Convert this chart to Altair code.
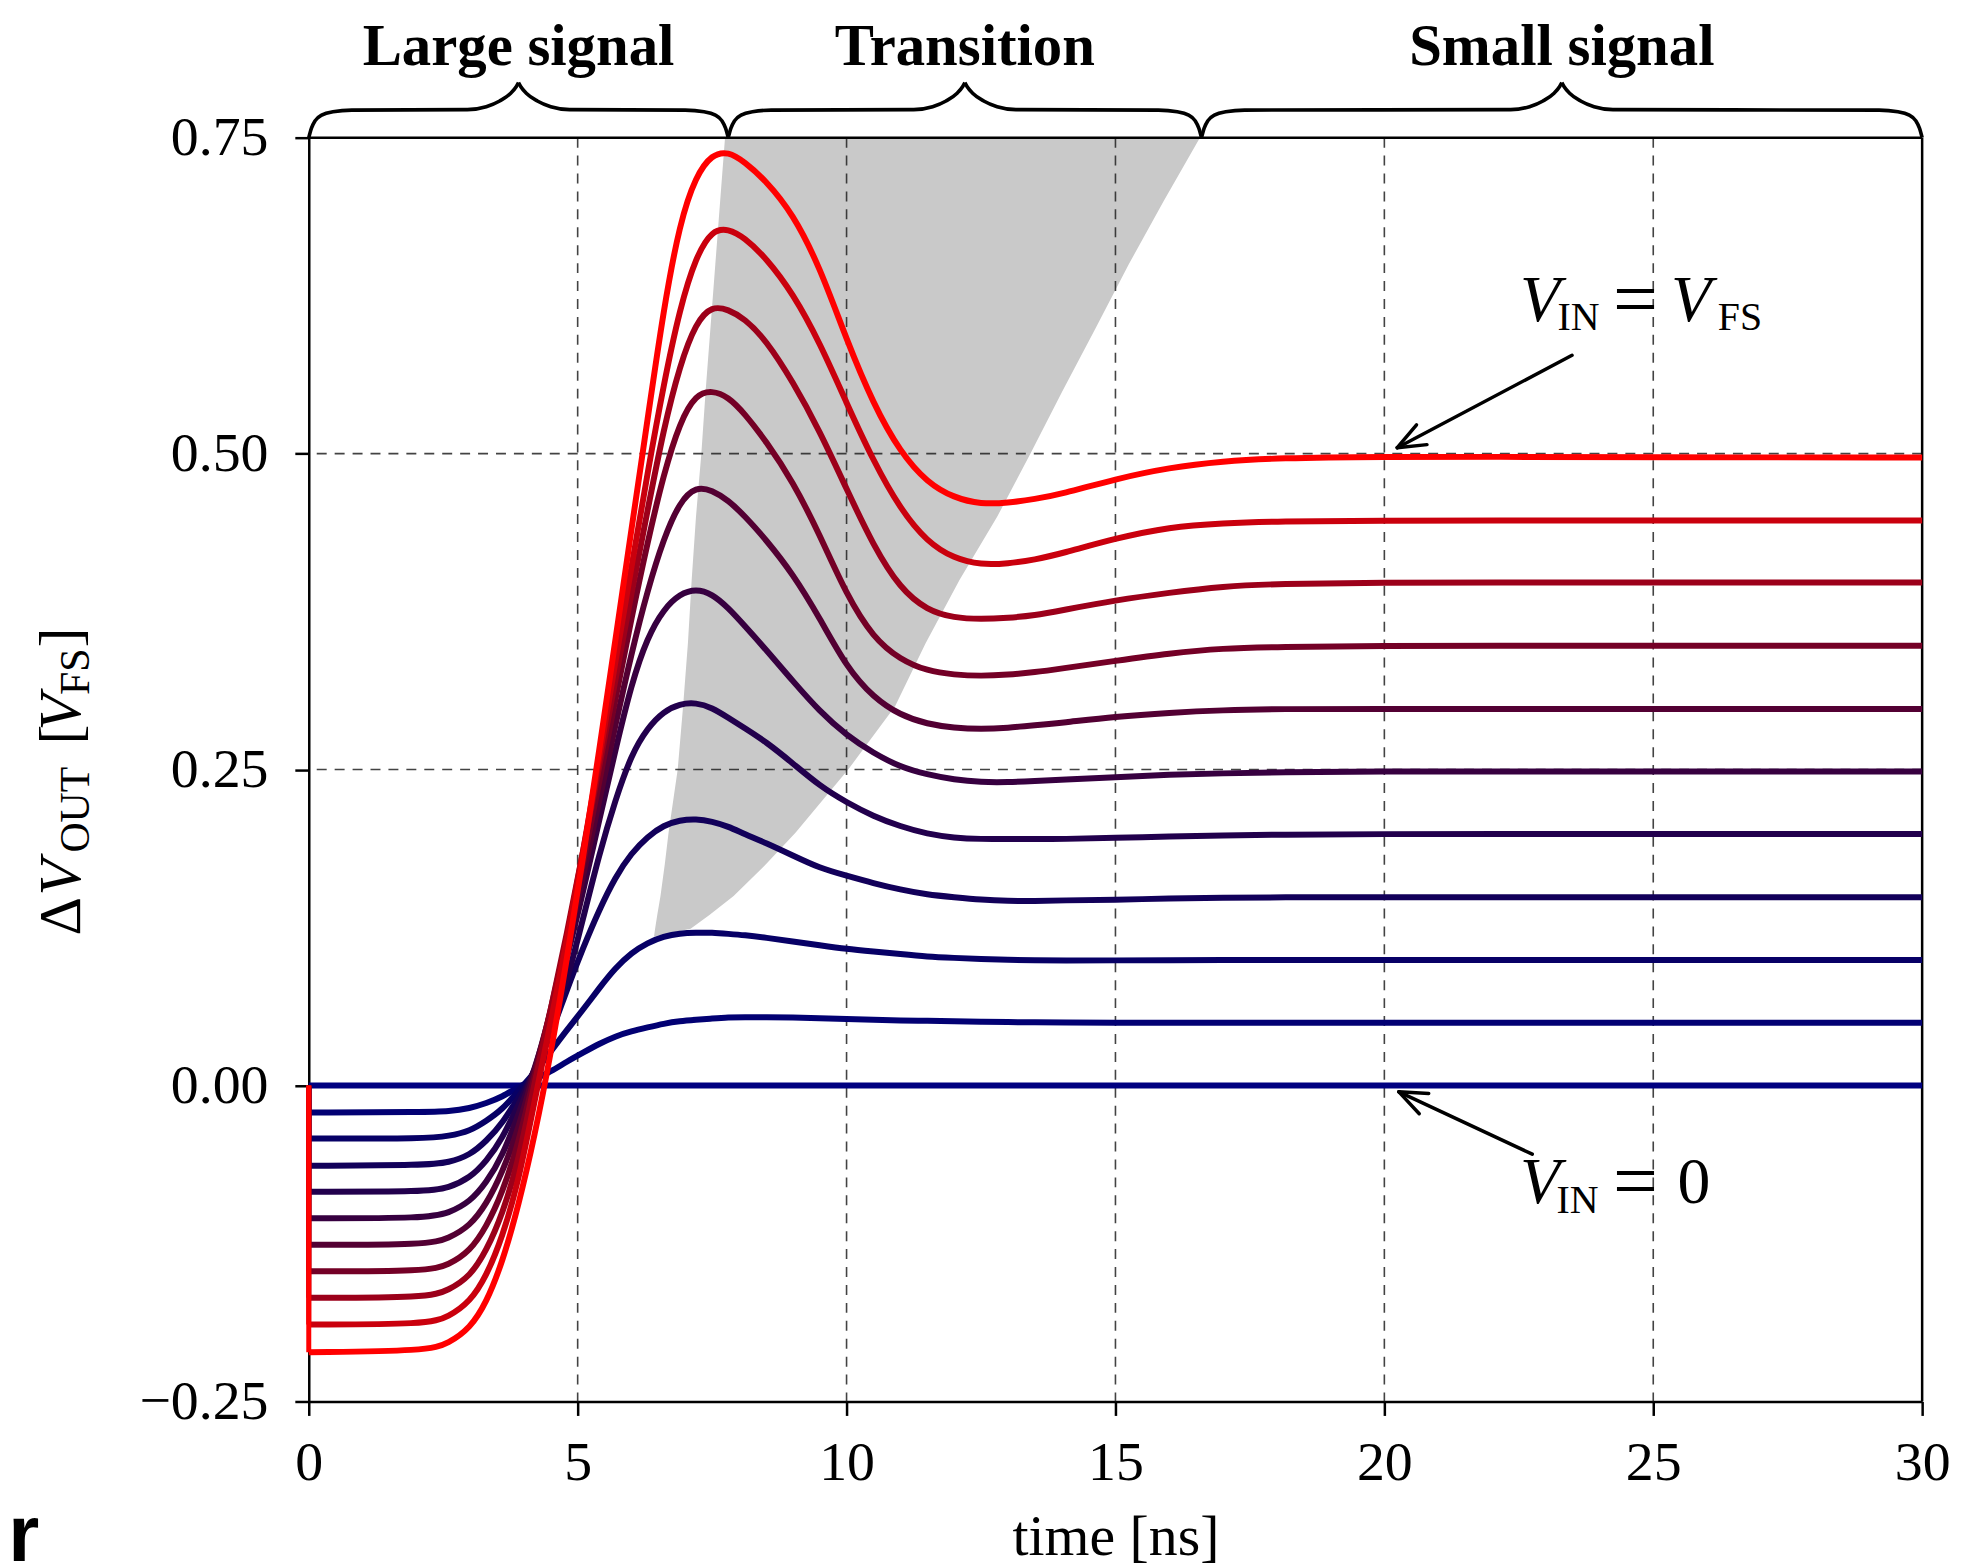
import math
import altair as alt
import pandas as pd

# ---------------- data ----------------
T = [0, 2.2, 2.6, 3.0, 3.3, 3.6, 3.9, 4.2, 4.5, 4.8, 5.1, 5.4, 5.7, 6.0, 6.3, 6.6, 6.9,
     7.2, 7.5, 7.8, 8.1, 8.5, 9.0, 9.5, 10.0, 10.5, 11.0, 11.5, 12.0, 12.5, 13.0, 13.5, 14.0,
     15.0, 16.0, 17.0, 18.0, 20.0, 22.0, 25.0, 30.0]

V0 = [0.0] * 41
V1 = [-0.0214, -0.021, -0.0205, -0.018, -0.014, -0.009, -0.001,
      0.005, 0.011, 0.019, 0.026, 0.033, 0.039, 0.043, 0.046, 0.049, 0.051,
      0.052, 0.053, 0.054, 0.054, 0.054, 0.0538, 0.0533, 0.0527,
      0.052, 0.0515, 0.0512, 0.0508, 0.0505, 0.0502, 0.050, 0.0498,
      0.0497, 0.0497, 0.0497, 0.0497, 0.0497, 0.0497, 0.0497, 0.0497]
V2 = [-0.042, -0.042, -0.040, -0.036, -0.028, -0.019, -0.004,
      0.010, 0.027, 0.044, 0.060, 0.077, 0.093, 0.105, 0.113, 0.118, 0.1205,
      0.121, 0.121, 0.120, 0.119, 0.117, 0.114, 0.111, 0.108,
      0.106, 0.104, 0.102, 0.101, 0.100, 0.0995, 0.099, 0.099,
      0.099, 0.0992, 0.0994, 0.0994, 0.0994, 0.0994, 0.0994, 0.0994]
V3 = [-0.0635, -0.063, -0.061, -0.055, -0.044, -0.030, -0.009,
      0.010, 0.040, 0.076, 0.109, 0.139, 0.165, 0.184, 0.197, 0.206, 0.210,
      0.211, 0.209, 0.205, 0.199, 0.192, 0.182, 0.172, 0.166,
      0.160, 0.155, 0.151, 0.149, 0.147, 0.146, 0.146, 0.1465,
      0.147, 0.148, 0.1485, 0.149, 0.149, 0.149, 0.149, 0.149]
V4 = [-0.084, -0.084, -0.081, -0.073, -0.060, -0.042, -0.015,
      0.012, 0.045, 0.082, 0.132, 0.183, 0.226, 0.262, 0.283, 0.296, 0.302,
      0.303, 0.299, 0.291, 0.283, 0.272, 0.255, 0.237, 0.224,
      0.213, 0.205, 0.199, 0.196, 0.195, 0.195, 0.195, 0.195,
      0.196, 0.197, 0.198, 0.1985, 0.199, 0.199, 0.199, 0.199]
V5 = [-0.105, -0.105, -0.101, -0.092, -0.077, -0.056, -0.023,
      0.013, 0.055, 0.100, 0.153, 0.210, 0.265, 0.318, 0.355, 0.377, 0.389,
      0.393, 0.389, 0.378, 0.364, 0.345, 0.320, 0.296, 0.277,
      0.263, 0.252, 0.246, 0.242, 0.240, 0.240, 0.241, 0.242,
      0.244, 0.246, 0.247, 0.248, 0.2485, 0.2485, 0.2485, 0.2485]
V6 = [-0.126, -0.126, -0.121, -0.111, -0.094, -0.069, -0.034,
      0.012, 0.058, 0.108, 0.165, 0.225, 0.285, 0.342, 0.392, 0.433, 0.462,
      0.474, 0.471, 0.463, 0.451, 0.432, 0.405, 0.370, 0.331,
      0.307, 0.293, 0.286, 0.283, 0.282, 0.283, 0.285, 0.287,
      0.292, 0.295, 0.297, 0.298, 0.298, 0.298, 0.298, 0.298]
V7 = [-0.147, -0.147, -0.142, -0.131, -0.112, -0.085, -0.046,
      0.008, 0.060, 0.115, 0.175, 0.240, 0.305, 0.370, 0.430, 0.484, 0.525,
      0.547, 0.550, 0.545, 0.532, 0.510, 0.478, 0.436, 0.388,
      0.354, 0.337, 0.328, 0.325, 0.324, 0.325, 0.327, 0.330,
      0.336, 0.342, 0.346, 0.347, 0.348, 0.348, 0.348, 0.348]
V8 = [-0.168, -0.168, -0.162, -0.151, -0.131, -0.102, -0.060,
      0.003, 0.060, 0.120, 0.185, 0.252, 0.320, 0.390, 0.455, 0.520, 0.570,
      0.604, 0.617, 0.614, 0.607, 0.590, 0.557, 0.518, 0.472,
      0.427, 0.393, 0.376, 0.370, 0.369, 0.370, 0.372, 0.376,
      0.384, 0.390, 0.395, 0.397, 0.398, 0.398, 0.398, 0.398]
V9 = [-0.189, -0.189, -0.183, -0.171, -0.151, -0.120, -0.076,
      -0.012, 0.050, 0.115, 0.185, 0.258, 0.335, 0.410, 0.485, 0.555, 0.615,
      0.656, 0.677, 0.678, 0.671, 0.655, 0.627, 0.588, 0.540,
      0.494, 0.456, 0.430, 0.417, 0.412, 0.413, 0.416, 0.421,
      0.433, 0.442, 0.445, 0.4465, 0.447, 0.447, 0.447, 0.447]
V10 = [-0.211, -0.210, -0.204, -0.192, -0.172, -0.140, -0.095,
       -0.040, 0.025, 0.100, 0.180, 0.265, 0.352, 0.440, 0.527, 0.615, 0.683,
       0.720, 0.737, 0.739, 0.731, 0.716, 0.690, 0.648, 0.590,
       0.539, 0.501, 0.477, 0.465, 0.460, 0.461, 0.464, 0.468,
       0.480, 0.489, 0.494, 0.4965, 0.4975, 0.4975, 0.497, 0.497]
CURVES = [V0, V1, V2, V3, V4, V5, V6, V7, V8, V9, V10]
COLORS = ["#000080", "#020073", "#070066", "#12005a", "#22004d", "#370040",
          "#530033", "#740026", "#9c001a", "#ca000d", "#ff0000"]

# grey "transition" region: left / right boundary time for each level
GRAY_V = [0.118, 0.124, 0.135, 0.15, 0.175, 0.2, 0.25, 0.3, 0.35, 0.4, 0.45, 0.5,
          0.55, 0.6, 0.65, 0.7, 0.75]
GRAY_LEFT = [6.42, 6.44, 6.48, 6.54, 6.62, 6.69, 6.86, 6.96, 7.05, 7.12, 7.2, 7.3,
             7.38, 7.47, 7.56, 7.65, 7.74]
GRAY_RIGHT = [6.42, 7.1, 7.45, 7.9, 8.5, 9.05, 10.03, 10.9, 11.47, 12.1, 12.8, 13.42,
              14.02, 14.64, 15.25, 15.9, 16.57]

X_TICKS = [0, 5, 10, 15, 20, 25, 30]
Y_TICKS = [-0.25, 0, 0.25, 0.5, 0.75]
X_GRID = [5, 10, 15, 20, 25]
Y_GRID = [0.25, 0.5]

REGION_NAMES = ["Large signal", "Transition", "Small signal"]
REGION_START = [0.0, 7.8, 16.6]
REGION_END = [7.8, 16.6, 30.0]

# ---------------- styling ----------------
FONT = "Liberation Serif"
W, H = 1620, 1269
PX_T = W / 30.0   # px per ns
PX_V = H / 1.0    # px per unit

xscale = alt.Scale(domain=[0, 30], nice=False, zero=False)
yscale = alt.Scale(domain=[-0.25, 0.75], nice=False, zero=False)
xaxis = alt.Axis(values=X_TICKS, title="time [ns]", grid=False, domainColor="black",
                 domainWidth=2.5, tickColor="black", tickWidth=2.5, tickSize=14,
                 labelFont=FONT, labelFontSize=56, labelColor="black", labelPadding=20,
                 labelFlush=False, titleFont=FONT, titleFontSize=58,
                 titleFontWeight="normal", titleColor="black", titlePadding=19)
yaxis = alt.Axis(values=Y_TICKS, title=None, grid=False, domainColor="black",
                 domainWidth=2.5, tickColor="black", tickWidth=2.5, tickSize=14,
                 labelFont=FONT, labelFontSize=56, labelColor="black", labelPadding=27,
                 labelFlush=False,
                 labelExpr="replace(format(datum.value, '.2f'), '-', '\u2212')")


def X(field="t"):
    return alt.X(f"{field}:Q", scale=xscale, axis=xaxis)


def Y(field="v"):
    return alt.Y(f"{field}:Q", scale=yscale, axis=yaxis)


layers = []

# grey region
gray_df = pd.DataFrame({"v": GRAY_V, "t": GRAY_LEFT, "t2": GRAY_RIGHT})
layers.append(alt.Chart(gray_df).mark_area(orient="horizontal", color="#c9c9c9")
              .encode(y=Y(), x=X(), x2="t2:Q"))

# dashed grid
grid_style = dict(color="#222222", strokeWidth=1.6, strokeDash=[10, 8], opacity=0.85)
layers.append(alt.Chart(pd.DataFrame({"t": X_GRID})).mark_rule(**grid_style).encode(x=X()))
layers.append(alt.Chart(pd.DataFrame({"v": Y_GRID})).mark_rule(**grid_style).encode(y=Y()))

# top and right frame
layers.append(alt.Chart(pd.DataFrame({"v": [0.75]})).mark_rule(color="black", strokeWidth=2.5)
              .encode(y=Y()))
layers.append(alt.Chart(pd.DataFrame({"t": [30]})).mark_rule(color="black", strokeWidth=2.5)
              .encode(x=X()))

# curves (blue first, red last on top)
for k, vals in enumerate(CURVES):
    df = pd.DataFrame({"t": T, "v": vals})
    layers.append(alt.Chart(df).mark_line(color=COLORS[k], strokeWidth=6,
                                          interpolate="basis")
                  .encode(x=X(), y=Y()))
    if vals[0] != 0:
        jdf = pd.DataFrame({"t": [0.0], "v": [0.0], "v2": [vals[0]]})
        layers.append(alt.Chart(jdf).mark_rule(color=COLORS[k], strokeWidth=5)
                      .encode(x=X(), y=Y(), y2="v2:Q"))

# curly braces above the plot
END_DX = [0.0, 0.05, 0.12, 0.25, 0.45, 0.8]
END_DV = [0.0, 0.0075, 0.0135, 0.018, 0.0205, 0.0218]
TIP_DX = [0.95, 0.6, 0.35, 0.15, 0.04, 0.0]
TIP_DV = [0.0222, 0.0245, 0.029, 0.035, 0.0405, 0.0435]
brace_rows = []
for i, (a, b) in enumerate(zip(REGION_START, REGION_END)):
    m = (a + b) / 2
    for side, sgn, e in (("L", 1, a), ("R", -1, b)):
        seg = f"{i}{side}"
        for dx, dv in zip(END_DX, END_DV):
            brace_rows.append({"seg": seg, "t": e + sgn * dx, "v": 0.75 + dv})
        for dx, dv in zip(TIP_DX, TIP_DV):
            brace_rows.append({"seg": seg, "t": m - sgn * dx, "v": 0.75 + dv})
brace_df = pd.DataFrame(brace_rows)
layers.append(alt.Chart(brace_df).mark_line(color="black", strokeWidth=3.6,
                                            interpolate="monotone")
              .encode(x=X(), y=Y(), detail="seg:N"))

region_df = pd.DataFrame({"t": [(a + b) / 2 for a, b in zip(REGION_START, REGION_END)],
                          "v": [0.8072] * 3, "txt": REGION_NAMES})
layers.append(alt.Chart(region_df).mark_text(font=FONT, fontSize=59, fontWeight="bold",
                                             align="center", baseline="alphabetic",
                                             color="black")
              .encode(x=X(), y=Y(), text="txt:N"))

# arrows (tip, tail)
ARROWS = [((20.24, 0.5047), (23.49, 0.5778)), ((20.27, -0.005), (22.75, -0.0543))]
arrow_rows = []
for tip, tail in ARROWS:
    arrow_rows.append({"t": tip[0], "v": tip[1], "t2": tail[0], "v2": tail[1]})
    dx = (tail[0] - tip[0]) * PX_T
    dy = -(tail[1] - tip[1]) * PX_V
    n = math.hypot(dx, dy)
    ux, uy = dx / n, dy / n
    for ang in (math.radians(22), math.radians(-22)):
        wx = 30 * (ux * math.cos(ang) - uy * math.sin(ang))
        wy = 30 * (ux * math.sin(ang) + uy * math.cos(ang))
        arrow_rows.append({"t": tip[0], "v": tip[1],
                           "t2": tip[0] + wx / PX_T, "v2": tip[1] - wy / PX_V})
layers.append(alt.Chart(pd.DataFrame(arrow_rows))
              .mark_rule(color="black", strokeWidth=3.5, strokeCap="round")
              .encode(x=X(), y=Y(), x2="t2:Q", y2="v2:Q"))

# math annotations  V_IN = V_FS  and  V_IN = 0
ITALIC = pd.DataFrame({"t": [22.52, 25.33, 22.52], "v": [0.605, 0.605, -0.0926],
                       "txt": ["V", "V", "V"]})
EQUALS = pd.DataFrame({"t": [24.25, 24.25], "v": [0.601, -0.0966], "txt": ["=", "="]})
ZERO = pd.DataFrame({"t": [25.45], "v": [-0.0926], "txt": ["0"]})
SUB = pd.DataFrame({"t": [23.22, 26.2, 23.2], "v": [0.598, 0.598, -0.1005],
                    "txt": ["IN", "FS", "IN"]})
layers.append(alt.Chart(ITALIC).mark_text(font=FONT, fontSize=66, fontStyle="italic",
                                          align="left", baseline="alphabetic", color="black")
              .encode(x=X(), y=Y(), text="txt:N"))
layers.append(alt.Chart(EQUALS).mark_text(font=FONT, fontSize=80, align="left",
                                          baseline="alphabetic", color="black")
              .encode(x=X(), y=Y(), text="txt:N"))
layers.append(alt.Chart(ZERO).mark_text(font=FONT, fontSize=66, align="left",
                                        baseline="alphabetic", color="black")
              .encode(x=X(), y=Y(), text="txt:N"))
layers.append(alt.Chart(SUB).mark_text(font=FONT, fontSize=40, align="left",
                                       baseline="alphabetic", color="black")
              .encode(x=X(), y=Y(), text="txt:N"))

# rotated y-axis title  ΔV_OUT [V_FS]
YL_ROMAN = pd.DataFrame({"t": [-4.26, -4.26, -4.26], "v": [0.1187, 0.2698, 0.3465],
                         "txt": ["\u0394", "[", "]"]})
YL_ITALIC = pd.DataFrame({"t": [-4.26, -4.26], "v": [0.1503, 0.281], "txt": ["V", "V"]})
YL_SUB = pd.DataFrame({"t": [-4.08, -4.08], "v": [0.1843, 0.309], "txt": ["OUT", "FS"]})
layers.append(alt.Chart(YL_ROMAN).mark_text(font=FONT, fontSize=60, angle=270, align="left",
                                            baseline="alphabetic", color="black")
              .encode(x=X(), y=Y(), text="txt:N"))
layers.append(alt.Chart(YL_ITALIC).mark_text(font=FONT, fontSize=60, angle=270, align="left",
                                             fontStyle="italic", baseline="alphabetic",
                                             color="black")
              .encode(x=X(), y=Y(), text="txt:N"))
layers.append(alt.Chart(YL_SUB).mark_text(font=FONT, fontSize=42, angle=270, align="left",
                                          baseline="alphabetic", color="black")
              .encode(x=X(), y=Y(), text="txt:N"))

# stray bold "r" at the lower-left edge
layers.append(alt.Chart(pd.DataFrame({"t": [-5.59], "v": [-0.3765], "txt": ["r"]}))
              .mark_text(font="Liberation Sans", fontSize=80, fontWeight="bold",
                         align="left", baseline="alphabetic", color="black")
              .encode(x=X(), y=Y(), text="txt:N"))

chart = (alt.layer(*layers)
         .properties(width=W, height=H,
                     padding={"left": 302, "top": 127, "right": 36, "bottom": 164},
                     autosize=alt.AutoSizeParams(type="none"))
         .configure(background="white")
         .configure_view(stroke=None))

chart.save("out.html", embed_options={"renderer": "svg", "actions": False})
